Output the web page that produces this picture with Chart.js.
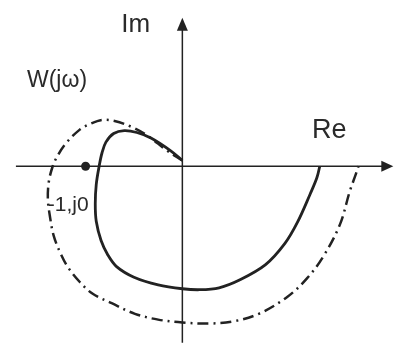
<!DOCTYPE html>
<html>
<head>
<meta charset="utf-8">
<script src="https://cdn.jsdelivr.net/npm/chart.js@4.4.0/dist/chart.umd.min.js"></script>
<style>
  html, body { margin: 0; padding: 0; background: #fff; }
  #wrap { width: 398px; height: 349px; position: relative; }
</style>
</head>
<body>
<div id="wrap"><canvas id="nyquist"></canvas></div>
<script>
// W(jw) hodograph (solid) and the wider dash-dot curve, in Re / Im units
const solidRe = [0, -0.12, -0.32, -0.47, -0.60, -0.71, -0.79, -0.83, -0.86, -0.89, -0.90, -0.89, -0.84, -0.77, -0.68, -0.50, -0.25, 0, 0.18, 0.38, 0.59, 0.86, 1.06, 1.19, 1.32, 1.39, 1.42];
const solidIm = [0.06, 0.16, 0.29, 0.35, 0.37, 0.34, 0.25, 0.14, 0, -0.19, -0.39, -0.57, -0.77, -0.92, -1.04, -1.15, -1.23, -1.27, -1.28, -1.26, -1.18, -1.02, -0.80, -0.58, -0.29, -0.12, 0];

const outerRe = [0, -0.17, -0.35, -0.53, -0.70, -0.83, -0.95, -1.06, -1.21, -1.30, -1.34, -1.38, -1.39, -1.37, -1.33, -1.26, -1.18, -1.06, -0.93, -0.73, -0.49, -0.25, 0, 0.28, 0.52, 0.79, 1.09, 1.29, 1.46, 1.63, 1.73, 1.79, 1.82];
const outerIm = [0.06, 0.17, 0.31, 0.41, 0.47, 0.48, 0.44, 0.38, 0.23, 0.09, 0, -0.16, -0.34, -0.51, -0.72, -0.90, -1.05, -1.20, -1.32, -1.42, -1.53, -1.59, -1.62, -1.63, -1.61, -1.53, -1.35, -1.16, -0.93, -0.60, -0.26, -0.09, 0];

// critical point -1, j0
const criticalRe = [-1];
const criticalIm = [0];

const toPoints = (re, im) => re.map((x, i) => ({ x: x, y: im[i] }));

const ink = "#222";

// coordinate axes with arrow heads and the text labels
const axesPlugin = {
    id: "axes",
    beforeDatasetsDraw(chart) {
        const ctx = chart.ctx;
        const sx = chart.scales.x;
        const sy = chart.scales.y;
        const x0 = sx.getPixelForValue(0);
        const y0 = sy.getPixelForValue(0);
        const left = sx.getPixelForValue(-1.72);
        const right = sx.getPixelForValue(2.18);
        const top = sy.getPixelForValue(1.54);
        const bottom = sy.getPixelForValue(-1.83);

        ctx.save();
        ctx.strokeStyle = ink;
        ctx.fillStyle = ink;
        ctx.lineWidth = 1.5;
        ctx.beginPath();
        ctx.moveTo(left, y0);
        ctx.lineTo(right - 8, y0);
        ctx.moveTo(x0, bottom);
        ctx.lineTo(x0, top + 8);
        ctx.stroke();

        // arrow heads
        ctx.beginPath();
        ctx.moveTo(right, y0);
        ctx.lineTo(right - 12, y0 - 5.5);
        ctx.lineTo(right - 12, y0 + 5.5);
        ctx.closePath();
        ctx.fill();
        ctx.beginPath();
        ctx.moveTo(x0, top);
        ctx.lineTo(x0 - 5.5, top + 13);
        ctx.lineTo(x0 + 5.5, top + 13);
        ctx.closePath();
        ctx.fill();

        ctx.fillStyle = "#2a2a2a";
        ctx.textBaseline = "alphabetic";
        ctx.font = "26px 'Liberation Sans', Arial, sans-serif";
        ctx.fillText("Im", x0 - 61, 32);
        ctx.font = "27px 'Liberation Sans', Arial, sans-serif";
        ctx.fillText("Re", sx.getPixelForValue(1.34), 138);
        ctx.font = "23px 'Liberation Sans', Arial, sans-serif";
        ctx.fillText("W(jω)", 27, 87);
        ctx.font = "21px 'Liberation Sans', Arial, sans-serif";
        ctx.fillText("-1,j0", sx.getPixelForValue(-1.39), 211);
        ctx.restore();
    }
};

new Chart(document.getElementById("nyquist"), {
    type: "scatter",
    data: {
        datasets: [
            {
                data: toPoints(outerRe, outerIm),
                showLine: true,
                borderColor: ink,
                borderWidth: 2.5,
                borderDash: [11, 5, 2, 5],
                borderCapStyle: "butt",
                tension: 0.35,
                pointRadius: 0,
                fill: false
            },
            {
                data: toPoints(solidRe, solidIm),
                showLine: true,
                borderColor: ink,
                borderWidth: 2.8,
                tension: 0.35,
                pointRadius: 0,
                fill: false
            },
            {
                data: toPoints(criticalRe, criticalIm),
                showLine: false,
                pointRadius: 4.5,
                pointBackgroundColor: ink,
                pointBorderWidth: 0
            }
        ]
    },
    options: {
        responsive: true,
        maintainAspectRatio: false,
        animation: false,
        layout: { padding: 0 },
        plugins: {
            legend: { display: false },
            tooltip: { enabled: false }
        },
        scales: {
            x: { type: "linear", min: -1.838, max: 2.182, display: false },
            y: { type: "linear", min: -1.848, max: 1.677, display: false }
        }
    },
    plugins: [axesPlugin]
});
</script>
</body>
</html>
